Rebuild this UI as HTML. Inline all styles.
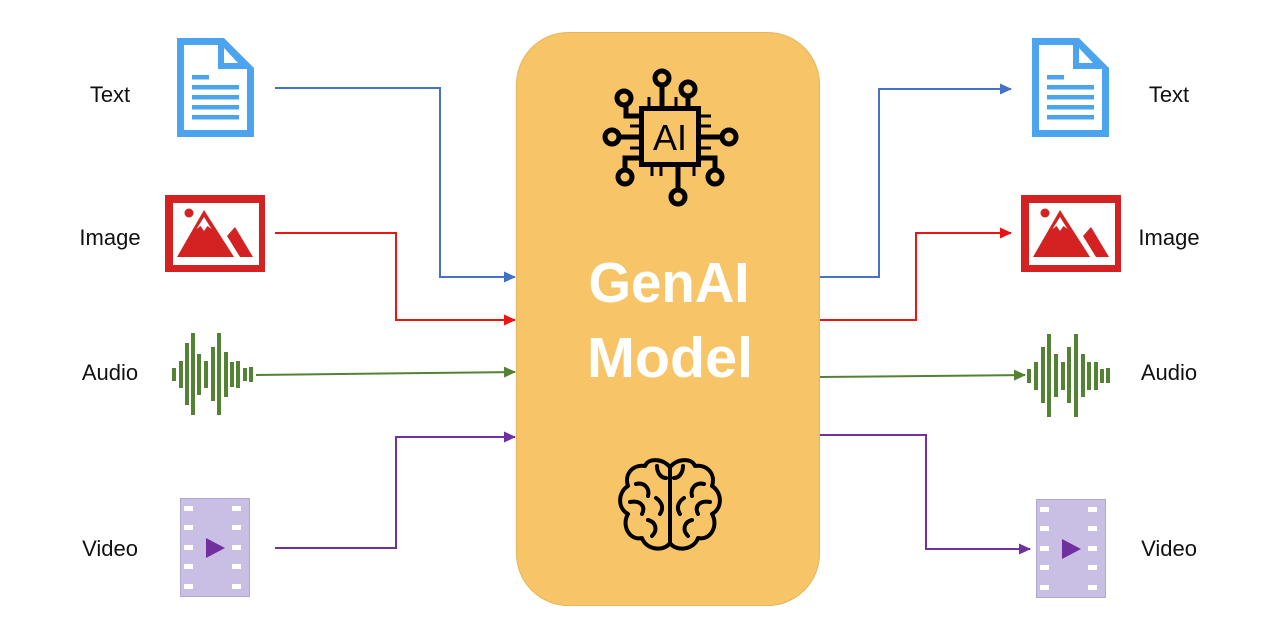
<!DOCTYPE html>
<html><head><meta charset="utf-8"><style>
html,body{margin:0;padding:0;background:#fff;}
svg{display:block;}
text{font-family:"Liberation Sans",sans-serif;}
</style></head><body>
<svg width="1280" height="637" viewBox="0 0 1280 637" xmlns="http://www.w3.org/2000/svg">
<defs>
<marker id="ab" markerWidth="12" markerHeight="12" refX="11" refY="6" orient="auto" markerUnits="userSpaceOnUse"><path d="M0,0.5 L12,6 L0,11.5 Z" fill="#4472C4"/></marker>
<marker id="ar" markerWidth="12" markerHeight="12" refX="11" refY="6" orient="auto" markerUnits="userSpaceOnUse"><path d="M0,0.5 L12,6 L0,11.5 Z" fill="#E81515"/></marker>
<marker id="ag" markerWidth="12" markerHeight="12" refX="11" refY="6" orient="auto" markerUnits="userSpaceOnUse"><path d="M0,0.5 L12,6 L0,11.5 Z" fill="#548235"/></marker>
<marker id="ap" markerWidth="12" markerHeight="12" refX="11" refY="6" orient="auto" markerUnits="userSpaceOnUse"><path d="M0,0.5 L12,6 L0,11.5 Z" fill="#7030A0"/></marker>
<g id="doc">
<path d="M177,38 L224,38 L254,68 L254,137 L177,137 Z" fill="#4DA4EE"/>
<path d="M184,45 L218,45 L218,69 L247,69 L247,130 L184,130 Z" fill="#fff"/>
<path d="M224,48 L224,63 L238,63 Z" fill="#fff"/>
<rect x="192" y="75" width="17" height="4.5" fill="#4DA4EE"/>
<rect x="192" y="85" width="47" height="4.5" fill="#4DA4EE"/>
<rect x="192" y="95" width="47" height="4.5" fill="#4DA4EE"/>
<rect x="192" y="105" width="47" height="4.5" fill="#4DA4EE"/>
<rect x="192" y="115" width="47" height="4.5" fill="#4DA4EE"/>
</g>
<g id="img">
<rect x="165" y="195" width="100" height="77" fill="#D42121"/>
<rect x="173" y="203" width="86" height="62" fill="#fff"/>
<circle cx="189" cy="213" r="4.5" fill="#D42121"/>
<path d="M177,257 L204,210 L234,257 Z" fill="#D42121"/>
<path d="M204,217 L211.5,229 L207.5,226 L204,231 L200.5,226 L196.5,229 Z" fill="#fff"/>
<path d="M227,236 L235,227 L253,257 L240,257 Z" fill="#D42121"/>
</g>
<g id="vid">
<rect x="180.5" y="498.5" width="69" height="98" fill="#C9BFE4" stroke="#B3A8D3" stroke-width="1"/>
<g fill="#fff">
<rect x="184" y="506" width="9" height="5"/><rect x="184" y="525" width="9" height="5"/><rect x="184" y="545" width="9" height="5"/><rect x="184" y="564" width="9" height="5"/><rect x="184" y="584" width="9" height="5"/>
<rect x="232" y="506" width="9" height="5"/><rect x="232" y="525" width="9" height="5"/><rect x="232" y="545" width="9" height="5"/><rect x="232" y="564" width="9" height="5"/><rect x="232" y="584" width="9" height="5"/>
</g>
<path d="M206,538 L225,548 L206,558 Z" fill="#7030A0"/>
</g>
</defs>

<!-- central box -->
<rect x="516.5" y="32.5" width="303" height="573" rx="52" ry="52" fill="#F7C567" stroke="#E6B45C" stroke-width="1"/>

<!-- left connectors -->
<polyline points="275,88 440,88 440,277 515,277" fill="none" stroke="#4472C4" stroke-width="2" marker-end="url(#ab)"/>
<polyline points="275,233 396,233 396,320 515,320" fill="none" stroke="#E81515" stroke-width="2" marker-end="url(#ar)"/>
<line x1="256" y1="375" x2="515" y2="372" stroke="#548235" stroke-width="2" marker-end="url(#ag)"/>
<polyline points="275,548 396,548 396,437 515,437" fill="none" stroke="#7030A0" stroke-width="2" marker-end="url(#ap)"/>

<!-- right connectors -->
<polyline points="820,277 879,277 879,89 1011,89" fill="none" stroke="#4472C4" stroke-width="2" marker-end="url(#ab)"/>
<polyline points="820,320 916,320 916,233 1011,233" fill="none" stroke="#E81515" stroke-width="2" marker-end="url(#ar)"/>
<line x1="820" y1="377" x2="1025" y2="375" stroke="#548235" stroke-width="2" marker-end="url(#ag)"/>
<polyline points="820,435 926,435 926,549 1030,549" fill="none" stroke="#7030A0" stroke-width="2" marker-end="url(#ap)"/>

<!-- left icons -->
<use href="#doc"/>
<use href="#img"/>
<use href="#vid"/>
<g stroke="#548235" stroke-width="4" fill="none">
<line x1="174" y1="368" x2="174" y2="381"/>
<line x1="181" y1="361" x2="181" y2="388"/>
<line x1="187" y1="343" x2="187" y2="405"/>
<line x1="193" y1="333" x2="193" y2="415"/>
<line x1="199" y1="354" x2="199" y2="395"/>
<line x1="206" y1="361" x2="206" y2="388"/>
<line x1="213" y1="347" x2="213" y2="401"/>
<line x1="219" y1="333" x2="219" y2="415"/>
<line x1="226" y1="352" x2="226" y2="397"/>
<line x1="232" y1="362" x2="232" y2="387"/>
<line x1="238" y1="361" x2="238" y2="388"/>
<line x1="245" y1="368" x2="245" y2="381"/>
<line x1="251" y1="367" x2="251" y2="382"/>
</g>

<!-- right icons -->
<use href="#doc" transform="translate(855,0)"/>
<use href="#img" transform="translate(856,0)"/>
<use href="#vid" transform="translate(856,1)"/>
<g stroke="#548235" stroke-width="4" fill="none">
<line x1="1029" y1="369" x2="1029" y2="383"/>
<line x1="1036" y1="362" x2="1036" y2="390"/>
<line x1="1043" y1="347" x2="1043" y2="403"/>
<line x1="1049" y1="334" x2="1049" y2="417"/>
<line x1="1056" y1="354" x2="1056" y2="397"/>
<line x1="1063" y1="362" x2="1063" y2="390"/>
<line x1="1069" y1="347" x2="1069" y2="403"/>
<line x1="1076" y1="334" x2="1076" y2="417"/>
<line x1="1083" y1="354" x2="1083" y2="397"/>
<line x1="1089" y1="362" x2="1089" y2="390"/>
<line x1="1096" y1="362" x2="1096" y2="390"/>
<line x1="1102" y1="369" x2="1102" y2="383"/>
<line x1="1108" y1="368" x2="1108" y2="383"/>
</g>

<!-- labels -->
<g font-size="22" fill="#111" text-anchor="middle">
<text x="110" y="102">Text</text>
<text x="110" y="245">Image</text>
<text x="110" y="380">Audio</text>
<text x="110" y="556">Video</text>
<text x="1169" y="102">Text</text>
<text x="1169" y="245">Image</text>
<text x="1169" y="380">Audio</text>
<text x="1169" y="556">Video</text>
</g>

<!-- GenAI Model text -->
<g fill="#fff" font-weight="bold" font-size="57" text-anchor="middle">
<text x="669" y="302" textLength="161" lengthAdjust="spacingAndGlyphs">GenAI</text>
<text x="670" y="377" textLength="166" lengthAdjust="spacingAndGlyphs">Model</text>
</g>

<!-- AI chip icon -->
<g stroke="#000" stroke-width="5" fill="none" stroke-linecap="butt">
<rect x="641.5" y="108.5" width="57" height="56"/>
<circle cx="662" cy="78" r="7"/>
<circle cx="688" cy="89" r="7"/>
<circle cx="624" cy="98" r="7"/>
<circle cx="612" cy="137" r="7"/>
<circle cx="729" cy="137" r="7"/>
<circle cx="625" cy="177" r="7"/>
<circle cx="715" cy="177" r="7"/>
<circle cx="678" cy="197" r="7"/>
<line x1="662" y1="85" x2="662" y2="108"/>
<line x1="688" y1="96" x2="688" y2="108"/>
<polyline points="626,105 626,116 641,116"/>
<line x1="619" y1="137" x2="641" y2="137"/>
<line x1="722" y1="137" x2="699" y2="137"/>
<polyline points="625,170 625,158 641,158"/>
<polyline points="715,170 715,158 699,158"/>
<line x1="678" y1="190" x2="678" y2="165"/>
</g>
<g stroke="#000" stroke-width="3">
<line x1="649" y1="97" x2="649" y2="108"/>
<line x1="676" y1="97" x2="676" y2="108"/>
<line x1="699" y1="116" x2="711" y2="116"/>
<line x1="699" y1="126" x2="711" y2="126"/>
<line x1="699" y1="148" x2="711" y2="148"/>
<line x1="630" y1="126" x2="641" y2="126"/>
<line x1="630" y1="148" x2="641" y2="148"/>
<line x1="652" y1="165" x2="652" y2="176"/>
<line x1="661" y1="165" x2="661" y2="176"/>
<line x1="694" y1="165" x2="694" y2="176"/>
</g>
<text x="670" y="150" font-size="36" fill="#000" text-anchor="middle">AI</text>

<!-- brain icon -->
<g stroke="#000" stroke-width="4" fill="none" stroke-linecap="round" stroke-linejoin="round">
<path d="M670,467 C662,458 648,458 645,466 C633,464 624,474 628,486 C618,492 617,508 628,514 C621,526 630,541 642,538 C646,550 664,552 670,543 Z"/>
<path d="M670,467 C678,458 692,458 695,466 C707,464 716,474 712,486 C722,492 723,508 712,514 C719,526 710,541 698,538 C694,550 676,552 670,543 Z"/>
<line x1="670" y1="467" x2="670" y2="543"/>
<path d="M657,466 C657,474 662,478 666,478"/>
<path d="M683,466 C683,474 678,478 674,478"/>
<path d="M636,484 C644,482 650,488 648,496"/>
<path d="M704,484 C696,482 690,488 692,496"/>
<path d="M630,502 C640,500 646,506 642,514"/>
<path d="M710,502 C700,500 694,506 698,514"/>
<path d="M656,498 C662,502 664,508 660,514"/>
<path d="M684,498 C678,502 676,508 680,514"/>
<path d="M648,520 C656,522 658,530 652,536"/>
<path d="M692,520 C684,522 682,530 688,536"/>
</g>
</svg>
</body></html>
